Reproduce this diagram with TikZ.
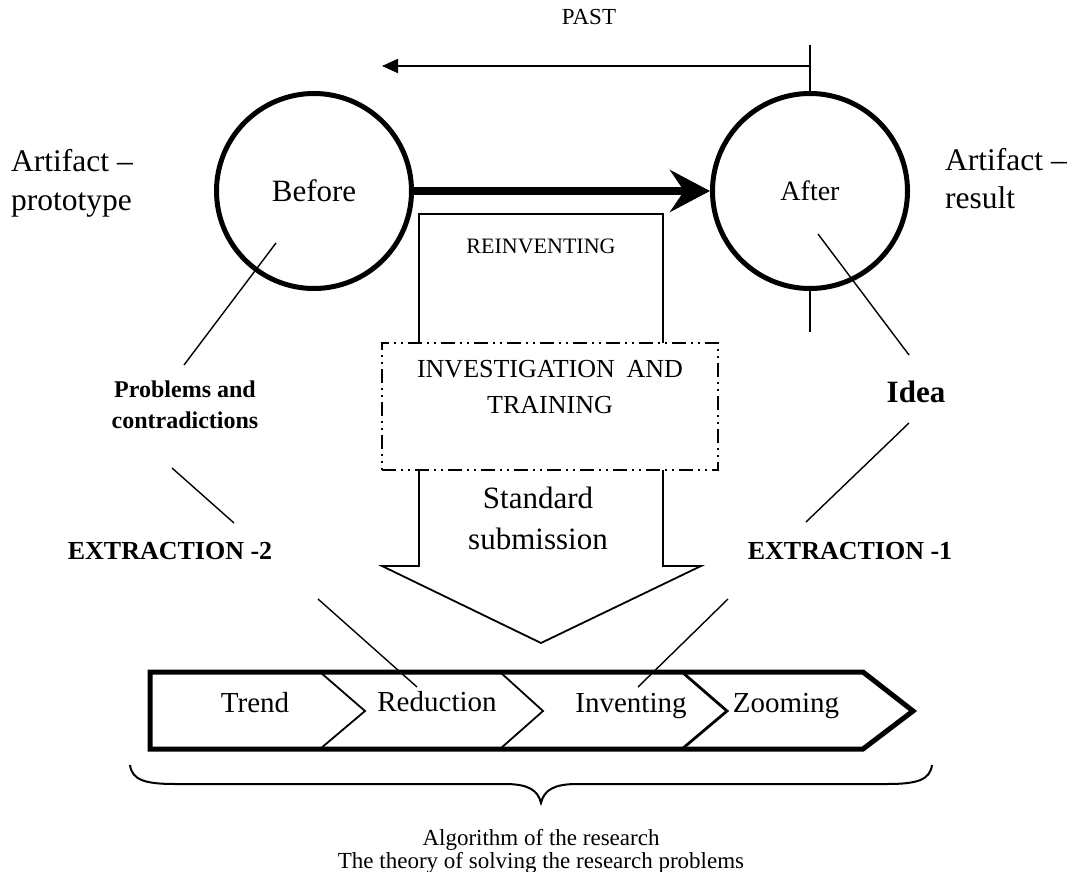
\documentclass[tikz,border=0pt]{standalone}
\usepackage{fontspec}
\setmainfont{Liberation Serif}
\usetikzlibrary{arrows.meta}
\newcommand\myfs[1]{\fontsize{#1}{#1}\selectfont}

\begin{document}
\begin{tikzpicture}[x=1pt,y=-1pt,
  lbl/.style={inner sep=0pt, anchor=base},
  ring/.style={circle, draw, line width=5pt, minimum size=195pt, inner sep=0pt},
  conn/.style={line width=1.4pt},
  frame/.style={line width=1.8pt},
  dashdot/.style={line width=1.6pt, dash pattern=on 14pt off 5pt on 2pt off 5pt on 2pt off 5pt}]
\useasboundingbox (0,0) rectangle (1073,872);

% time axis
\node[lbl, font=\myfs{23}] (past) at (589,25) {PAST};

% before / after circles
\node[ring, font=\myfs{31}] (before) at (314,191) {Before};
\node[ring, font=\myfs{28}] (after) at (810,191) {After};

\coordinate (tick) at (810,45);
\coordinate (pastend) at (382,66);
\draw[line width=2pt] (tick) -- (after.north);
\draw[line width=2pt, -{Triangle[length=16pt,width=14pt]}] (after.north |- pastend) -- (pastend);
\coordinate (aftertail) at (810,332);
\draw[line width=2pt] (after.south) -- (aftertail);

\draw[line width=8pt, -{Stealth[length=40pt,width=42pt,inset=14pt]}] (before.east) -- (after.west);

% side labels
\node[lbl, anchor=base west, font=\myfs{31.5}] (art1) at (11,171) {Artifact --};
\node[lbl, anchor=base west, font=\myfs{31.5}] (art2) at (11,210) {prototype};
\node[lbl, anchor=base west, font=\myfs{31.5}] (res1) at (945,170) {Artifact --};
\node[lbl, anchor=base west, font=\myfs{31.5}] (res2) at (945,208) {result};

% big downward arrow
\draw[frame] (419,214) -- (663,214) -- (663,566) -- (701,566) -- (541,643)
  -- (382,566) -- (419,566) -- cycle;
\node[lbl, font=\myfs{22}] (reinv) at (541,253) {REINVENTING};
\node[lbl, font=\myfs{31}] (std1) at (538,508) {Standard};
\node[lbl, font=\myfs{31}] (std2) at (538,549) {submission};

% investigation box
\node[draw, dashdot, fill=white, minimum width=336pt, minimum height=127pt] (invest) at (550,406.5) {};
\node[lbl, font=\myfs{26}] (inv1) at (550,377) {INVESTIGATION\hspace{0.45em}AND};
\node[lbl, font=\myfs{26}] (inv2) at (550,413) {TRAINING};

% left chain
\node[lbl, font=\bfseries\myfs{24}] (prob1) at (185,397) {Problems and};
\node[lbl, font=\bfseries\myfs{24}] (prob2) at (185,428) {contradictions};
\node[lbl, font=\bfseries\myfs{26}] (ext2) at (170,559) {EXTRACTION -2};
\coordinate (b1) at (276,243); \coordinate (b2) at (184,365);
\coordinate (p1) at (172,468); \coordinate (p2) at (234,523);
\coordinate (e1) at (318,599); \coordinate (e2) at (417,687);
\draw[conn] (b1) -- (b2);
\draw[conn] (p1) -- (p2);
\draw[conn] (e1) -- (e2);

% right chain
\node[lbl, font=\bfseries\myfs{31}] (idea) at (916,402) {Idea};
\node[lbl, font=\bfseries\myfs{26}] (ext1) at (850,559) {EXTRACTION -1};
\coordinate (a1) at (818,234); \coordinate (a2) at (909,355);
\coordinate (i1) at (909,423); \coordinate (i2) at (806,522);
\coordinate (x1) at (728,599); \coordinate (x2) at (638,687);
\draw[conn] (a1) -- (a2);
\draw[conn] (i1) -- (i2);
\draw[conn] (x1) -- (x2);

% process bar
\draw[line width=5pt] (150,672) -- (863,672) -- (913,711) -- (863,749) -- (150,749) -- cycle;
\draw[line width=1.8pt] (320,672) -- (365,711) -- (320,749);
\draw[line width=1.8pt] (500,672) -- (543,711) -- (500,749);
\draw[line width=2.8pt] (682,672) -- (727,711) -- (682,749);
\node[lbl, font=\myfs{29}] (trend) at (255,712) {Trend};
\node[lbl, font=\myfs{29}] (reduct) at (437,711) {Reduction};
\node[lbl, font=\myfs{29}] (invent) at (631,712) {Inventing};
\node[lbl, font=\myfs{29}] (zoom) at (786,712) {Zooming};

% brace and caption
\draw[line width=2pt] (130,765) .. controls (132,780) and (145,784) .. (175,784)
  -- (505,784) .. controls (528,784) and (538,790) .. (541,803)
  .. controls (544,790) and (554,784) .. (577,784)
  -- (887,784) .. controls (917,784) and (930,780) .. (932,765);
\node[lbl, font=\myfs{23}] (alg) at (541,845) {Algorithm of the research};
\node[lbl, font=\myfs{23}] (theory) at (541,868) {The theory of solving the research problems};
\end{tikzpicture}
\end{document}
